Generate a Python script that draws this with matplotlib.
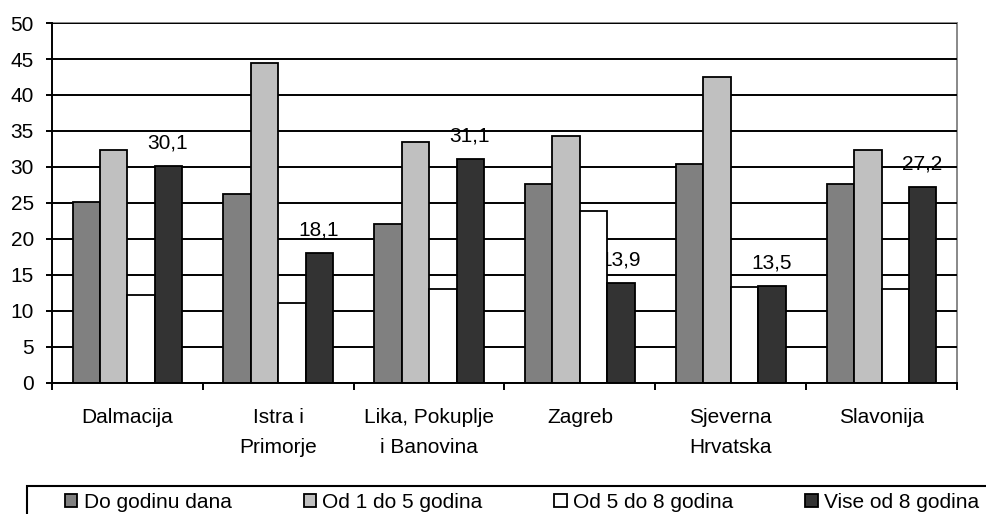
import matplotlib
matplotlib.use("Agg")
import matplotlib.pyplot as plt
from matplotlib.patches import Rectangle
import numpy as np

plt.rcParams['font.family'] = ['Liberation Sans', 'DejaVu Sans']

categories = ["Dalmacija", "Istra i\nPrimorje", "Lika, Pokuplje\ni Banovina",
              "Zagreb", "Sjeverna\nHrvatska", "Slavonija"]
series_names = ["Do godinu dana", "Od 1 do 5 godina", "Od 5 do 8 godina", "Vise od 8 godina"]
do_godinu = [25.1, 26.3, 22.1, 27.7, 30.4, 27.6]
od_1_do_5 = [32.4, 44.4, 33.5, 34.3, 42.5, 32.3]
od_5_do_8 = [12.2, 11.1, 13.1, 23.9, 13.3, 13.1]
vise_od_8 = [30.1, 18.1, 31.1, 13.9, 13.5, 27.2]
label_texts = ["30,1", "18,1", "31,1", "13,9", "13,5", "27,2"]
yticks = [0, 5, 10, 15, 20, 25, 30, 35, 40, 45, 50]

colors = ["#808080", "#C0C0C0", "#FFFFFF", "#333333"]
all_series = [do_godinu, od_1_do_5, od_5_do_8, vise_od_8]
FS = 15

fig = plt.figure(figsize=(9.87, 5.14), dpi=100)
ax = fig.add_axes([52/987, (514-383)/514, (957-52)/987, (383-23)/514])

x = np.arange(len(categories))
bw = 0.182
offsets = (np.arange(4) - 1.5) * bw
bars = []
for i, (vals, c, name) in enumerate(zip(all_series, colors, series_names)):
    b = ax.bar(x + offsets[i], vals, bw, color=c, edgecolor="black", linewidth=1.3,
               label=name, zorder=3)
    bars.append(b)

for xi, v, t in zip(x, vise_od_8, label_texts):
    ax.annotate(t, (xi + offsets[3], v), xytext=(-0.5, 16.5), textcoords="offset points",
                ha="center", va="center", fontsize=FS, zorder=1)

ax.set_xlim(-0.5, len(categories) - 0.5)
ax.set_ylim(0, 50)
ax.set_yticks(yticks)
ax.set_yticklabels([str(t) for t in yticks], fontsize=FS)
ax.yaxis.grid(True, color="black", linewidth=1.4)
ax.set_axisbelow(False)
for gl in ax.get_ygridlines():
    gl.set_zorder(2)

ax.set_xticks(x)
ax.set_xticklabels(categories, fontsize=FS, linespacing=1.75)
ax.tick_params(axis="x", which="major", length=0, pad=18)
ax.set_xticks(np.arange(len(categories) + 1) - 0.5, minor=True)
ax.tick_params(axis="x", which="minor", length=5, width=1.4, direction="out")
ax.tick_params(axis="y", length=4, width=1.4, direction="out", pad=9)

for s in ("left", "bottom"):
    ax.spines[s].set_linewidth(1.4)
    ax.spines[s].set_zorder(4)
for s in ("top", "right"):
    ax.spines[s].set_color("#888888")
    ax.spines[s].set_linewidth(1.4)

leg = fig.legend(handles=bars, labels=series_names, loc="center left",
                 bbox_to_anchor=(65/987, (514-502)/514),
                 ncol=4, fontsize=FS, frameon=False,
                 handlelength=0.6, handleheight=0.6, handletextpad=0.3,
                 columnspacing=3.45, borderaxespad=0, borderpad=0)

fig.patches.append(Rectangle((27/987, -0.05), 1.0, (514-486)/514 + 0.05,
                             transform=fig.transFigure, fill=False,
                             edgecolor="black", linewidth=1.5))

fig.savefig("out.png", dpi=100)
